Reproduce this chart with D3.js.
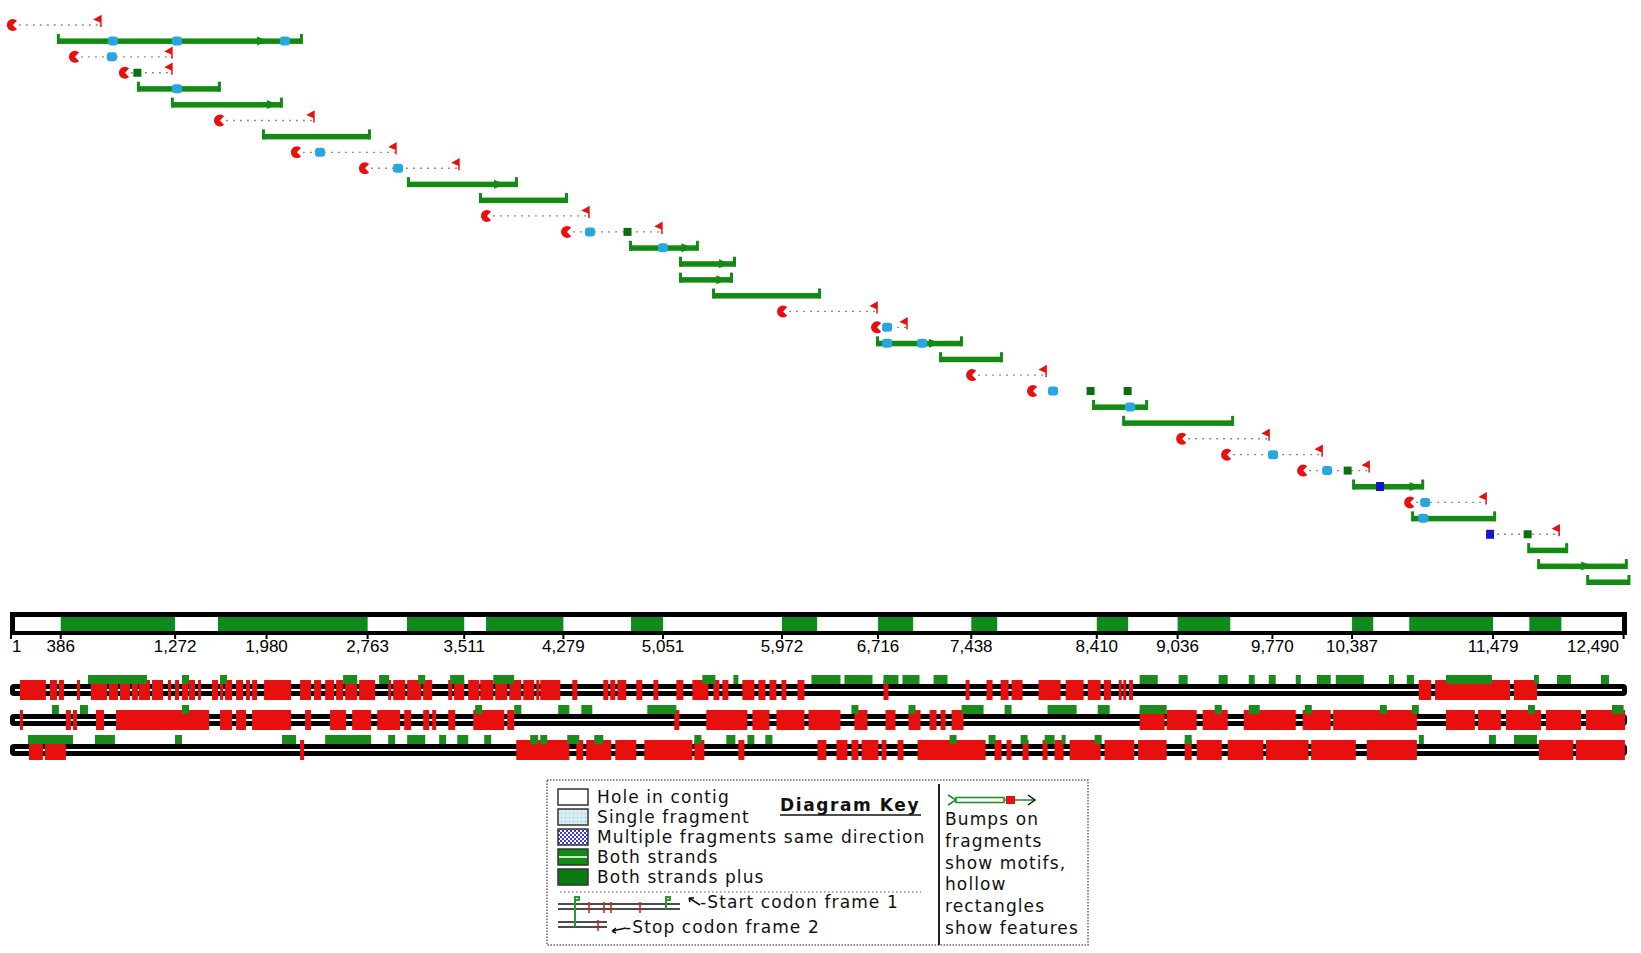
<!DOCTYPE html>
<html>
<head>
<meta charset="utf-8">
<script src="https://cdn.jsdelivr.net/npm/d3@7"></script>
<style>
body { margin: 0; background: #fff; }
svg { display: block; }
.tick-label { font-family: "Liberation Sans", Arial, sans-serif; font-size: 17px; fill: #000; }
.key text { font-family: "DejaVu Sans", sans-serif; font-size: 17px; letter-spacing: 1.1px; fill: #111; }
</style>
</head>
<body>
<svg id="chart" width="1641" height="953"></svg>
<script>
// contig
var contigLength = 12490;
var tickLabels = [1, 386, 1272, 1980, 2763, 3511, 4279, 5051, 5972, 6716, 7438, 8410, 9036, 9770, 10387, 11479, 12490];
var contigCovered = [[386,1272],[1604,2763],[3068,3511],[3680,4279],[4803,5051],[5972,6244],[6716,6988],[7438,7639],[8410,8653],[9036,9444],[10387,10551],[10830,11479],[11760,12008]];

// fragments, one per row: kind, start, end
// g = both strands, r = single read pair, c = start marker only, d = dotted without start marker
var fragments = [
    ["r", 15, 705], ["g", 364, 2254], ["r", 496, 1255], ["r", 883, 1255],
    ["g", 984, 1619], ["g", 1247, 2099], ["r", 1619, 2355], ["g", 1952, 2781],
    ["r", 2215, 2990], ["r", 2742, 3478], ["g", 3075, 3919], ["g", 3633, 4307],
    ["r", 3687, 4485], ["r", 4307, 5050], ["g", 4795, 5321], ["g", 5182, 5608],
    ["g", 5182, 5585], ["g", 5438, 6267], ["r", 5980, 6716], ["r", 6708, 6948],
    ["g", 6708, 7366], ["g", 7196, 7676], ["r", 7444, 8025], ["c", 7916, 8071],
    ["g", 8381, 8800], ["g", 8614, 9466], ["r", 9071, 9752], ["r", 9419, 10163],
    ["r", 10008, 10527], ["g", 10395, 10938], ["r", 10837, 11433], ["g", 10852, 11495],
    ["d", 11456, 11999], ["g", 11751, 12053], ["g", 11828, 12515], ["g", 12208, 12535]
];

// motifs on fragments: row, position, kind
var motifs = [
    [1, 790, "lb"], [1, 1286, "lb"], [1, 1952, "arrow"], [1, 2122, "lb"],
    [2, 782, "lb"], [3, 976, "dg"], [4, 1286, "lb"], [5, 2029, "arrow"],
    [8, 2394, "lb"], [9, 2998, "lb"], [10, 3788, "arrow"],
    [13, 4485, "lb"], [13, 4772, "dg"], [14, 5050, "lb"], [14, 5240, "arrow"],
    [15, 5530, "arrow"], [16, 5510, "arrow"],
    [19, 6786, "lb"], [20, 6786, "lb"], [20, 7057, "lb"], [20, 7157, "arrow"],
    [23, 8071, "lb"], [23, 8358, "dg"], [23, 8645, "dg"], [24, 8668, "lb"],
    [27, 9775, "lb"], [28, 10194, "lb"], [28, 10349, "dg"],
    [29, 10604, "db"], [29, 10880, "arrow"], [30, 10953, "lb"], [31, 10938, "lb"],
    [32, 11456, "db"], [32, 11743, "dg"], [34, 12208, "arrow"]
];

// stop codons (red) and start codons (green) per reading frame
var stops1 = [[70,271],[302,357],[372,411],[512,535],[620,744],[760,829],[845,922],[938,984],[992,1077],[1093,1178],[1217,1240],[1271,1302],[1325,1372],[1380,1426],[1449,1465],[1558,1604],[1620,1643],[1659,1713],[1744,1798],[1821,1852],[1868,1907],[1961,2170],[2240,2325],[2348,2403],[2434,2503],[2519,2573],[2589,2682],[2697,2821],[2922,2945],[2961,3054],[3069,3178],[3193,3263],[3387,3418],[3433,3511],[3542,3627],[3635,3736],[3751,3844],[3860,3953],[3968,4053],[4069,4092],[4100,4255],[4348,4387],[4588,4627],[4642,4681],[4697,4766],[4844,4890],[4976,5014],[5154,5208],[5278,5402],[5441,5487],[5510,5557],[5665,5758],[5789,5844],[5875,5929],[5968,6006],[6092,6146],[6758,6797],[7394,7425],[7556,7603],[7665,7727],[7750,7835],[7959,8130],[8169,8308],[8340,8440],[8465,8520],[8580,8600],[8615,8635],[8660,8690],[10904,11000],[11030,11610],[11640,11819]];
var stops2 = [[70,93],[426,465],[481,512],[659,721],[814,1535],[1620,1713],[1744,1821],[1868,2170],[2279,2325],[2472,2596],[2643,2790],[2837,3015],[3046,3100],[3193,3240],[3263,3294],[3387,3441],[3581,3821],[3844,3898],[5138,5177],[5386,5704],[5743,5875],[5929,6146],[6177,6425],[6533,6634],[6774,6851],[6952,7045],[7115,7169],[7200,7239],[7285,7378],[8742,8936],[8951,9184],[9230,9424],[9548,9951],[10005,10222],[10240,10889],[11114,11338],[11362,11540],[11579,11850],[11888,12160],[12198,12501]];
var stops3 = [[140,248],[264,426],[2240,2271],[3914,4325],[4379,4433],[4456,4650],[4681,4844],[4906,5278],[5293,5371],[5634,5681],[6247,6316],[6394,6479],[6510,6564],[6588,6719],[6743,6781],[6867,6913],[7022,7549],[7618,7673],[7711,7750],[7835,7882],[7990,8029],[8083,8153],[8200,8440],[8470,8700],[8730,8951],[9091,9145],[9184,9378],[9424,9700],[9720,10050],[10070,10416],[10501,10889],[11834,12100],[12120,12500]];
var starts1 = [[597,1054],[1325,1380],[1620,1674],[2573,2682],[2852,2930],[3154,3209],[3402,3511],[3736,3898],[5355,5456],[5596,5634],[6200,6425],[6456,6673],[6758,6874],[6905,7037],[7146,7254],[8742,8882],[9044,9114],[9354,9424],[9587,9633],[9742,9796],[9951,9990],[10114,10222],[10261,10478],[10672,10711],[10811,10866],[11114,11470],[11796,11834],[11974,12082],[12315,12377]];
var starts2 = [[318,372],[535,597],[1325,1380],[3596,3650],[3898,3953],[4239,4325],[4418,4503],[4929,5154],[6510,6564],[6952,7006],[7363,7533],[7696,7750],[8029,8254],[8417,8510],[8742,8951],[9323,9378],[9587,9672],[10021,10075],[10602,10656],[10850,10904],[11749,11803],[12400,12490]];
var starts3 = [[132,481],[651,806],[1271,1325],[2100,2209],[2434,2790],[2922,2976],[3069,3209],[3317,3371],[3457,3542],[3666,3720],[4022,4084],[4100,4154],[4309,4402],[4518,4588],[5293,5348],[5541,5611],[5704,5758],[5843,5898],[7270,7324],[7572,7626],[7820,7874],[8006,8083],[8138,8169],[8393,8448],[9091,9145],[10904,10943],[11447,11501],[11641,11819]];

// key texts
var keyItems = ["Hole in contig", "Single fragment", "Multiple fragments same direction", "Both strands", "Both strands plus"];
var keyNotes = ["Bumps on", "fragments", "show motifs,", "hollow", "rectangles", "show features"];

var green = "#138a13", red = "#e8100f", lightBlue = "#27a7df", darkBlue = "#1616c8", darkGreen = "#0b6e10";

var svg = d3.select("#chart");
var x = d3.scaleLinear().domain([1, contigLength]).range([11, 1623.6]);
var rowY = d3.scaleLinear().domain([0, fragments.length - 1]).range([25, 582]);

// patterns for the key
var defs = svg.append("defs");
var p1 = defs.append("pattern").attr("id", "single").attr("width", 4).attr("height", 4).attr("patternUnits", "userSpaceOnUse");
p1.append("rect").attr("width", 4).attr("height", 4).attr("fill", "#d6ecf3");
p1.append("rect").attr("x", 1).attr("y", 1).attr("width", 1).attr("height", 1).attr("fill", "#7fb9cf");
var p2 = defs.append("pattern").attr("id", "multi").attr("width", 4).attr("height", 4).attr("patternUnits", "userSpaceOnUse");
p2.append("rect").attr("width", 4).attr("height", 4).attr("fill", "#ffffff");
p2.append("rect").attr("width", 2).attr("height", 2).attr("fill", "#3a3ad8");
p2.append("rect").attr("x", 2).attr("y", 2).attr("width", 2).attr("height", 2).attr("fill", "#3a3ad8");

// FRAGMENTS
var fragG = svg.append("g").attr("class", "fragments");
var cArc = d3.arc()({innerRadius: 0, outerRadius: 6, startAngle: Math.PI / 2 + 0.8, endAngle: Math.PI / 2 - 0.8 + 2 * Math.PI});

fragments.forEach(function(f, i) {
    var kind = f[0], s = x(f[1]), e = x(f[2]), y = rowY(i);
    if (kind === "g") {
        fragG.append("rect").attr("x", s).attr("y", y - 2.5).attr("width", e - s).attr("height", 5.5).attr("fill", green);
        fragG.append("rect").attr("x", s - 1).attr("y", y - 7).attr("width", 3).attr("height", 10).attr("fill", green);
        fragG.append("rect").attr("x", e - 2).attr("y", y - 7).attr("width", 3).attr("height", 10).attr("fill", green);
    } else {
        if (kind !== "c") {
            fragG.append("line")
                .attr("x1", kind === "d" ? s : s + 6).attr("x2", e - 2)
                .attr("y1", y).attr("y2", y)
                .attr("stroke", "#8c8c8c").attr("stroke-width", 1.3)
                .attr("stroke-dasharray", "2,5");
            // flag at the end
            fragG.append("path")
                .attr("d", "M" + (e - 1) + "," + (y + 2) + "V" + (y - 9) + "L" + (e - 7) + "," + (y - 5.5) + "L" + (e - 1) + "," + (y - 3) + "Z")
                .attr("fill", red).attr("stroke", red).attr("stroke-width", 1.5);
        }
        if (kind !== "d") {
            fragG.append("path").attr("d", cArc)
                .attr("transform", "translate(" + s + "," + y + ")")
                .attr("fill", red);
        }
    }
});

// motifs
motifs.forEach(function(m) {
    var cx = x(m[1]), cy = rowY(m[0]);
    if (m[2] === "lb") {
        fragG.append("rect").attr("x", cx - 5).attr("y", cy - 4.5).attr("width", 10).attr("height", 9).attr("rx", 3).attr("fill", lightBlue);
    } else if (m[2] === "dg") {
        fragG.append("rect").attr("x", cx - 3.5).attr("y", cy - 4).attr("width", 8).attr("height", 8).attr("fill", darkGreen);
    } else if (m[2] === "db") {
        fragG.append("rect").attr("x", cx - 4).attr("y", cy - 4.5).attr("width", 8).attr("height", 9).attr("fill", darkBlue);
    } else {
        fragG.append("path")
            .attr("d", "M" + (cx - 6) + "," + (cy - 4.5) + "L" + (cx + 5) + "," + cy + "L" + (cx - 6) + "," + (cy + 4.5) + "Z")
            .attr("fill", green);
    }
});

// CONTIG BAR
var bar = svg.append("g").attr("class", "contig");
bar.append("rect").attr("x", 10).attr("y", 612).attr("width", 1617).attr("height", 23).attr("fill", "#000");
bar.append("rect").attr("x", 15).attr("y", 617).attr("width", 1607).attr("height", 14).attr("fill", "#fff");
bar.selectAll("rect.cov")
    .data(contigCovered)
    .enter()
    .append("rect")
    .attr("class", "cov")
    .attr("x", function(d) { return x(d[0]); })
    .attr("y", 617)
    .attr("width", function(d) { return x(d[1]) - x(d[0]); })
    .attr("height", 14)
    .attr("fill", "#0f8a1c");

bar.selectAll("line.tick")
    .data(tickLabels)
    .enter()
    .append("line")
    .attr("x1", function(d) { return x(d); })
    .attr("x2", function(d) { return x(d); })
    .attr("y1", 634).attr("y2", 639)
    .attr("stroke", "#000").attr("stroke-width", 2);

var fmt = d3.format(",");
bar.selectAll("text")
    .data(tickLabels)
    .enter()
    .append("text")
    .attr("class", "tick-label")
    .attr("x", function(d, i) { return i === 0 ? x(d) + 1 : (i === tickLabels.length - 1 ? 1619 : x(d)); })
    .attr("y", 652)
    .attr("text-anchor", function(d, i) { return i === 0 ? "start" : (i === tickLabels.length - 1 ? "end" : "middle"); })
    .text(function(d) { return fmt(d); });

// READING FRAMES
var frames = [
    {cy: 690, stops: stops1, starts: starts1},
    {cy: 720, stops: stops2, starts: starts2},
    {cy: 750, stops: stops3, starts: starts3}
];

frames.forEach(function(fr) {
    var g = svg.append("g").attr("class", "frame");
    g.append("rect").attr("x", 10).attr("y", fr.cy - 6).attr("width", 1617).attr("height", 12).attr("rx", 4).attr("fill", "#000");
    g.append("rect").attr("x", 15).attr("y", fr.cy - 1).attr("width", 1607).attr("height", 2).attr("fill", "#fff");
    g.selectAll("rect.stop")
        .data(fr.stops)
        .enter()
        .append("rect")
        .attr("class", "stop")
        .attr("x", function(d) { return x(d[0]); })
        .attr("y", fr.cy - 10)
        .attr("width", function(d) { return Math.max(x(d[1]) - x(d[0]), 3); })
        .attr("height", 20)
        .attr("fill", red);
    g.selectAll("rect.start")
        .data(fr.starts)
        .enter()
        .append("rect")
        .attr("class", "start")
        .attr("x", function(d) { return x(d[0]); })
        .attr("y", fr.cy - 15)
        .attr("width", function(d) { return Math.max(x(d[1]) - x(d[0]), 4); })
        .attr("height", 9)
        .attr("fill", "#1b8c1b");
});

// DIAGRAM KEY
var key = svg.append("g").attr("class", "key");
key.append("rect").attr("x", 547).attr("y", 780).attr("width", 541).attr("height", 165)
    .attr("fill", "#fff").attr("stroke", "#666").attr("stroke-width", 1.5).attr("stroke-dasharray", "1.5,1.5");
key.append("line").attr("x1", 939).attr("x2", 939).attr("y1", 784).attr("y2", 945).attr("stroke", "#222").attr("stroke-width", 2);

var swatchFill = ["#fff", "url(#single)", "url(#multi)", "#138a13", "#0b7a12"];
keyItems.forEach(function(t, i) {
    var cy = 797 + i * 20;
    key.append("rect").attr("x", 558).attr("y", cy - 8).attr("width", 30).attr("height", 16)
        .attr("fill", swatchFill[i]).attr("stroke", "#333").attr("stroke-width", 1.5);
    if (i === 3) {
        key.append("rect").attr("x", 559).attr("y", cy - 1).attr("width", 28).attr("height", 2).attr("fill", "#cfe8cf");
    }
    key.append("text").attr("x", 597).attr("y", cy + 6).text(t);
});

key.append("text").attr("x", 780).attr("y", 811)
    .style("font-weight", "bold").style("letter-spacing", "1.6px")
    .text("Diagram Key");
key.append("line").attr("x1", 780).attr("x2", 921).attr("y1", 815).attr("y2", 815).attr("stroke", "#111").attr("stroke-width", 1.5);

key.append("line").attr("x1", 560).attr("x2", 921).attr("y1", 892).attr("y2", 892)
    .attr("stroke", "#555").attr("stroke-width", 1.2).attr("stroke-dasharray", "1.5,2.5");

// mini frame sample
key.append("line").attr("x1", 558).attr("x2", 680).attr("y1", 904).attr("y2", 904).attr("stroke", "#111").attr("stroke-width", 1.5);
key.append("line").attr("x1", 558).attr("x2", 680).attr("y1", 909).attr("y2", 909).attr("stroke", "#111").attr("stroke-width", 1.5);
key.append("line").attr("x1", 558).attr("x2", 607).attr("y1", 922).attr("y2", 922).attr("stroke", "#111").attr("stroke-width", 1.5);
key.append("line").attr("x1", 558).attr("x2", 607).attr("y1", 927).attr("y2", 927).attr("stroke", "#111").attr("stroke-width", 1.5);
[589, 604, 611, 640].forEach(function(px) {
    key.append("line").attr("x1", px).attr("x2", px).attr("y1", 902).attr("y2", 913).attr("stroke", red).attr("stroke-width", 1.5);
});
key.append("line").attr("x1", 598).attr("x2", 598).attr("y1", 920).attr("y2", 931).attr("stroke", red).attr("stroke-width", 1.5);
key.append("path").attr("d", "M575,927V897h4v3h-4").attr("fill", "none").attr("stroke", "#2c9a2c").attr("stroke-width", 2);
key.append("path").attr("d", "M666,909V897h4v3h-4").attr("fill", "none").attr("stroke", "#2c9a2c").attr("stroke-width", 2);
key.append("path").attr("d", "M700,905L689,898M689,898l5,0M689,898l1,4").attr("fill", "none").attr("stroke", "#111").attr("stroke-width", 1.5);
key.append("text").attr("x", 700).attr("y", 908).text("-Start codon frame 1");
key.append("path").attr("d", "M626,928L612,931M612,931l4,-3M612,931l4,2").attr("fill", "none").attr("stroke", "#111").attr("stroke-width", 1.5);
key.append("text").attr("x", 625).attr("y", 933).text("-Stop codon frame 2");

// fragment icon
key.append("path").attr("d", "M948,795L956,800L948,805").attr("fill", "none").attr("stroke", "#1b8c1b").attr("stroke-width", 1.5);
key.append("rect").attr("x", 956).attr("y", 797.5).attr("width", 48).attr("height", 5).attr("fill", "#fff").attr("stroke", "#1b8c1b").attr("stroke-width", 1.5);
key.append("line").attr("x1", 1004).attr("x2", 1034).attr("y1", 800).attr("y2", 800).attr("stroke", "#1b8c1b").attr("stroke-width", 1.5);
key.append("rect").attr("x", 1006).attr("y", 796).attr("width", 9).attr("height", 8).attr("fill", red);
key.append("path").attr("d", "M1028,795L1035,800L1028,805").attr("fill", "none").attr("stroke", "#111").attr("stroke-width", 1.5);

keyNotes.forEach(function(t, i) {
    key.append("text").attr("x", 945).attr("y", 825 + i * 21.8).text(t);
});
</script>
</body>
</html>
